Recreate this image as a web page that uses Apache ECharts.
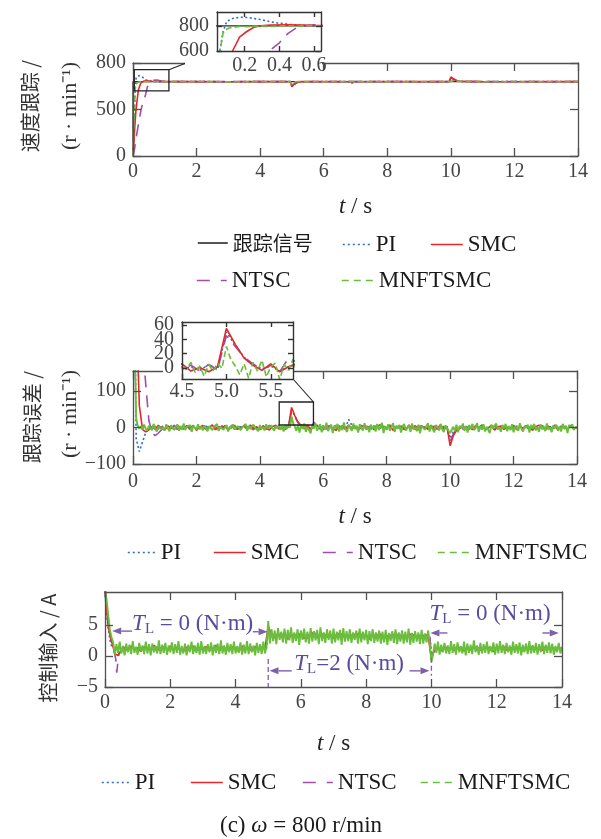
<!DOCTYPE html>
<html><head><meta charset="utf-8">
<script src="https://cdn.jsdelivr.net/npm/echarts@6/dist/echarts.min.js"></script>
<style>html,body{margin:0;padding:0;background:#fff}#c{width:601px;height:839px}</style>
</head><body><div id="c"></div>
<script>
// ---------------- tick labels ----------------
const spdTickVals = [0, 500, 1000];
const spdTickLabels = ['0', '500', '800'];
const errTickVals = [-100, 0, 100];
const ctrlTickVals = [-5, 0, 5];
const in1XTicks = [0.2, 0.4, 0.6];
const in1YTicks = [600, 800];
const in2XTicks = [4.5, 5.0, 5.5];
const in2YTicks = [0, 20, 40, 60];
const in2YLabelsA = [0, 40];
const in2YLabelsB = [20, 60];

// ---------------- (a) speed tracking, r/min ----------------
const spdRefT = [0, 0, 14];
const spdRefV = [0, 800, 800];
const spdPIT = [0,0.02,0.04,0.057,0.075,0.096,0.13,0.17,0.22,0.29,0.35,0.39,0.48,0.6,0.8,1,2,3,4,4.95,5.0,5.05,5.15,5.3,6,6.8,6.85,6.9,7,8,9,9.95,10.0,10.05,10.15,10.3,11,12,13,14];
const spdPIV = [0,150,420,600,753,836,858,868,866,850,832,822,808,801,799,800,802,798,801,800,752,770,788,798,801,800,778,799,800,802,798,800,832,818,806,801,799,801,800,800];
const spdSMCT = [0,0.03,0.06,0.09,0.13,0.17,0.21,0.25,0.29,0.35,0.45,0.6,0.8,1,2,3,4,4.95,5.0,5.05,5.1,5.2,5.3,6,7,8,9,9.95,10.0,10.05,10.1,10.2,10.3,11,12,13,14];
const spdSMCV = [0,150,330,480,600,710,753,787,800,806,808,804,801,800,801,799,800,800,745,767,786,796,800,801,799,800,801,800,850,835,822,808,802,800,799,801,800];
const spdNTSCT = [0,0.05,0.1,0.15,0.2,0.25,0.3,0.34,0.4,0.45,0.5,0.55,0.65,0.75,0.9,1.1,2,3,4,4.95,5.0,5.05,5.1,5.2,5.3,6,7,8,9,9.95,10.0,10.05,10.1,10.2,10.3,11,12,13,14];
const spdNTSCV = [0,80,200,300,400,490,560,600,665,740,785,800,814,818,806,801,799,801,800,800,755,770,785,794,800,799,801,800,799,800,838,852,830,808,801,800,801,799,800];
const spdMNT = [0,0.02,0.04,0.057,0.075,0.09,0.11,0.14,0.17,0.22,0.28,0.35,0.42,0.5,0.58,0.65,0.8,1,2,3,4,4.95,5.0,5.05,5.1,5.2,6,7,8,9,9.95,10.0,10.05,10.1,11,12,13,14];
const spdMNV = [0,250,480,600,743,770,783,788,796,793,799,795,801,797,802,798,801,799,802,797,801,800,772,788,797,801,798,803,797,801,800,815,806,801,799,802,798,800];

// ---------------- (b) tracking error, r/min ----------------
// sampled every 0.05 s from t = 0
const errMN = [800,250,25,5,-3,
 4,-6,8,-3,-9,5,2,-7,10,-4,
 -11,3,7,-5,1,-8,9,-2,-10,6,
 3,-6,-1,8,-9,4,-4,11,-7,2,
 -3,7,-12,5,0,-6,9,-5,3,-8,
 6,-2,-10,4,8,-7,1,-4,10,-9,
 2,5,-6,-1,7,-11,3,-3,9,-5,
 -8,4,6,-7,1,-2,10,-9,5,-4,
 -6,8,-1,3,-10,7,-5,2,-8,9,
 -3,-7,6,1,-9,4,-2,8,-6,3,
 -11,5,-4,7,0,
 30,12,3,-9,6,-14,8,-4,11,-12,
 2,7,-16,5,-3,12,-8,-1,9,-13,
 4,-6,13,-10,1,8,-15,6,-2,10,
 -11,3,-7,14,-5,-12,7,0,-9,11,
 -4,5,-14,9,-1,-8,12,-6,2,-13,
 8,-3,6,-11,10,-7,-2,13,-15,4,
 -5,9,-9,1,12,-12,5,-3,7,-14,
 3,10,-8,-1,6,-12,11,-5,2,-10,
 8,-16,4,9,-6,-2,12,-11,5,-4,
 -13,7,1,-8,10,-5,-12,6,3,-9,
 -15,-6,2,-10,8,-13,5,-2,11,-9,
 3,-14,7,-4,10,-7,-1,12,-12,4,
 -6,9,-11,2,6,-15,8,-3,-8,11,
 -5,1,-12,7,-2,10,-10,4,-7,9,
 -13,3,6,-9,12,-4,-11,5,-1,8,
 -14,7,-3,10,-8,2,-12,9,-5,4,
 -10,11,-6,1,-13,6,-2,8,-9,3,
 -11,10,-4,5,-15,7,-1,9,-7,2,
 -3];
// sampled every 0.1 s from t = 0
const errSMC = [800,330,60,-5,-12,-6,
 3,-5,6,-2,-7,4,1,-6,7,-3,
 -4,5,-1,6,-8,2,4,-5,0,7,
 -6,3,-2,5,-7,1,6,-4,-1,4,
 -5,7,-3,2,-6,5,-2,-7,3,6,
 -4,1,-5,2,
 55,33,14,4,-3,6,-5,2,7,-4,
 -6,3,5,-2,-8,4,1,-5,7,-3,
 2,-7,6,0,-4,5,-6,3,8,-5,
 -1,6,-8,2,4,-3,-6,7,-2,5,
 -7,3,1,-5,6,-4,-2,8,-6,3,
 -50,-22,-8,-3,4,-5,
 3,-6,5,-2,7,-4,-1,6,-7,2,
 4,-5,1,-3,6,-6,3,-2,5,-4,
 -7,2,6,-1,-5,4,-3,7,-6,1,
 3,-4,5,-2,0];
const errNTSC = [800,600,400,230,120,20,-15,-22,-15,-6,-1,
 4,-3,6,-5,1,-2,5,-6,3,0,
 -4,6,-1,-5,4,2,-6,5,-3,1,
 6,-4,-2,5,-5,3,0,-6,4,-1,
 2,-5,6,-3,-1,4,-4,5,-2,
 45,30,15,6,-2,4,-5,14,8,-3,
 5,-4,2,-6,6,-1,-3,7,-5,1,
 4,-2,-6,5,3,-4,0,6,-5,2,
 -3,7,-1,-6,4,1,-4,6,-2,-5,
 3,5,-6,2,-1,4,-5,7,-3,0,
 -38,-18,-6,2,-4,3,
 -5,4,1,-3,6,-6,2,-1,5,-4,
 3,-2,6,-5,0,4,-3,-6,5,1,
 -4,6,-2,3,-5,2,-1,5,-6,4,
 -3,1,6,-4,2];
const errPI = [800,-30,-66,-40,-14,-5,-1,
 3,-4,2,5,-3,-1,4,-5,1,3,
 -2,5,-4,0,2,-5,4,-1,-3,5,
 -2,1,4,-4,3,-1,-5,2,5,-3,
 0,4,-2,-4,3,1,-5,4,-1,2,
 -3,5,-2,
 50,32,15,5,-1,3,-4,2,5,-2,
 -3,4,1,-5,3,-2,5,-1,22,6,
 -4,2,-3,5,0,-5,3,1,-2,4,
 -5,2,4,-3,-1,5,-4,3,0,-2,
 4,-5,2,1,-3,5,-1,-4,3,2,
 -30,-12,-4,1,-3,2,
 -2,4,-3,1,5,-4,0,3,-5,2,
 -1,4,-3,5,-2,0,3,-4,1,-5,
 4,2,-3,5,-1,-2,4,-5,3,0,
 -3,2,5,-4,1];

// ---------------- (c) control input, A ----------------
// sampled every 0.05 s from t = 0
const ctrlMN = [11,9,6.5,4.2,3.0,
 2.2,0.2,1.9,0.5,2.3,0.4,1.6,0.1,2.0,0.6,
 1.8,0.3,2.4,0.5,1.5,0.2,2.1,0.7,1.7,0.3,
 2.3,0.4,1.9,0.1,2.0,0.6,1.6,0.4,2.5,0.3,
 1.8,0.5,2.1,0.2,1.7,0.6,2.2,0.3,1.9,0.5,
 2.4,0.2,1.6,0.4,2.0,0.1,1.8,0.6,2.3,0.3,
 1.7,0.5,2.1,0.2,2.4,0.4,1.6,0.3,1.9,0.6,
 2.2,0.1,1.8,0.5,2.0,0.3,2.5,0.4,1.7,0.2,
 2.1,0.6,1.9,0.3,2.3,0.4,1.6,0.5,2.2,0.2,
 1.8,0.4,2.4,0.3,2.0,0.6,1.7,0.1,2.1,0.5,
 1.9,0.3,2.3,0.4,1.6,
 5.6,2.0,4.3,2.4,4.1,1.9,4.5,2.6,3.9,2.2,
 4.4,2.0,4.2,2.5,4.6,2.1,3.8,2.4,4.3,1.8,
 4.1,2.6,4.4,2.2,3.9,2.0,4.5,2.3,4.0,2.5,
 4.2,1.9,4.6,2.4,3.8,2.1,4.3,2.6,4.1,2.0,
 4.4,2.2,3.9,2.5,4.2,1.8,4.5,2.3,4.0,2.4,
 4.3,2.1,3.8,2.6,4.1,2.0,4.4,2.2,3.9,2.5,
 4.2,1.9,4.0,2.4,4.3,2.1,3.8,2.3,4.1,2.0,
 3.9,2.2,4.2,1.8,3.7,2.4,4.0,2.1,4.3,1.9,
 3.8,2.3,4.1,2.0,3.9,2.2,4.4,1.8,3.7,2.1,
 4.0,2.3,3.8,1.9,4.2,2.0,3.6,2.2,4.1,1.9,
 -1.0,0.3,2.0,0.5,2.3,0.2,1.8,0.6,2.1,0.4,
 1.7,0.3,2.4,0.5,1.9,0.2,2.2,0.6,1.6,0.4,
 2.3,0.1,2.0,0.5,1.8,0.3,2.5,0.6,1.7,0.2,
 2.1,0.4,1.9,0.5,2.3,0.3,1.6,0.6,2.2,0.2,
 2.0,0.4,2.4,0.5,1.8,0.3,2.1,0.6,1.7,0.2,
 2.3,0.5,1.9,0.4,2.2,0.1,1.8,0.6,2.0,0.3,
 2.4,0.4,1.7,0.5,2.1,0.2,1.9,0.6,2.3,0.3,
 1.8,0.5,2.2,0.4,2.0,0.2,1.6,0.6,2.1,0.4,
 1.5];
// sampled every 0.1 s from t = 0
const ctrlSMC = [10.5,4.6,2.4,0.4,0.05,0.9,
 1.4,0.8,1.6,1.0,1.3,0.7,1.5,1.1,0.9,1.7,
 1.2,0.8,1.5,1.0,1.6,0.9,1.3,1.1,0.7,1.4,
 1.2,1.6,0.8,1.3,1.0,1.5,0.9,1.2,1.7,0.8,
 1.4,1.1,0.9,1.5,1.2,0.7,1.6,1.0,1.3,0.8,
 1.5,1.1,1.4,1.2,
 4.8,3.4,2.9,3.6,3.1,3.8,2.7,3.3,3.5,3.0,
 3.7,2.8,3.4,3.2,3.9,2.9,3.3,3.6,3.0,3.5,
 2.8,3.4,3.7,3.1,3.3,2.9,3.6,3.2,3.8,3.0,
 3.4,2.7,3.5,3.1,3.6,3.3,2.9,3.4,3.2,3.7,
 3.0,3.5,2.8,3.3,3.6,3.1,3.4,2.9,3.5,3.2,
 -0.5,1.0,1.4,0.8,1.6,1.1,1.3,0.9,1.5,1.2,
 0.8,1.4,1.0,1.6,1.2,0.9,1.3,1.5,1.1,0.7,
 1.4,1.2,1.6,0.9,1.3,1.0,1.5,1.2,0.8,1.4,
 1.1,1.6,1.0,1.3,0.9,1.5,1.2,1.4,1.0,1.3,
 1.2];
const ctrlPIT = [0,0.05,0.1,0.15,0.2,0.3,0.5,1,2,3,4,4.95,5.0,5.1,5.5,7,9,9.95,10.0,10.1,10.5,12,14];
const ctrlPIV = [10.5,6.5,4.6,2.6,1.6,1.1,1.2,1.3,1.1,1.2,1.3,1.2,4.5,3.4,3.2,3.3,3.1,3.2,0.2,1.0,1.2,1.3,1.2];
const ctrlNTSCT = [0,0.05,0.1,0.15,0.2,0.28,0.33,0.36,0.42,0.5,0.7,1,2,3,4,4.95,5.0,5.1,5.5,7,9,9.95,10.0,10.1,10.5,12,14];
const ctrlNTSCV = [10.5,10.5,6,3.5,2.0,0.8,-0.5,-2.7,0.3,1.0,1.3,1.2,1.1,1.3,1.2,1.2,4.6,3.5,3.2,3.3,3.1,3.2,0.0,1.0,1.2,1.3,1.2];

// zoom windows drawn in the main panels  [x0, y0, x1, y1]
const zoomBox1 = [0.04, 700, 1.13, 928];
const zoomBox2 = [4.61, 7, 5.69, 70];

// ---------------- helpers ----------------
const SERIF = '"Liberation Serif","Times New Roman","Noto Sans CJK SC",serif';
const CJK = '"Noto Sans CJK SC",sans-serif';
const AX = '#505050', LBL = '#444';
const ANN = '#7d5fae', ANNT = '#5a4b9e';
const ST = {
  '跟踪信号': {color: '#2b2b2b', type: 'solid', width: 1.3},
  'PI': {color: '#2d6cc0', type: [2, 2.5], width: 1.6},
  'SMC': {color: '#e8262a', type: 'solid', width: 1.6},
  'NTSC': {color: '#a24cb0', type: [12, 8], width: 1.6},
  'MNFTSMC': {color: '#69be3c', type: [6, 3], width: 1.6}
};
const zipT = (T, V) => T.map((t, i) => [t, V[i]]);
const uni = (V, step) => V.map((v, i) => [Math.round(i * step * 100) / 100, v]);
const minus = v => (v < 0 ? '\u2212' + Math.abs(v) : String(v));

const grids = [
  {left: 133, top: 63, width: 445, height: 93},
  {left: 217, top: 12, width: 104, height: 39},
  {left: 133, top: 371, width: 444, height: 93},
  {left: 182, top: 322, width: 111, height: 57},
  {left: 105, top: 592, width: 457, height: 95}
];
const axCfg = [
  {x: [0, 14], xi: 2, y: [0, 1000], yt: spdTickVals, yf: v => spdTickLabels[spdTickVals.indexOf(v)], tl: 8, xm: 6, ym: 7, gap: 39, z: 3, ac: AX, aw: 1.3, fs: 20},
  {x: [0.04, 0.64], xt: in1XTicks, xf: v => v.toFixed(1), y: [600, 910], yt: in1YTicks, tl: 5, xm: 5, ym: 8, z: 22, ac: '#333', aw: 1.4, fs: 20},
  {x: [0, 14], xi: 2, y: [-100, 155], yt: errTickVals, yf: minus, tl: 8, xm: 8, ym: 7, gap: 41, z: 3, ac: AX, aw: 1.3, fs: 20},
  {x: [4.5, 5.75], xt: in2XTicks, xf: v => v.toFixed(1), y: [-15, 64], yt: in2YTicks, yl: in2YLabelsA, tl: 5, xm: 3, ym: 8, z: 22, ac: '#333', aw: 1.4, fs: 20},
  {x: [0, 14], xi: 2, y: [-5, 10.3], yt: ctrlTickVals, yf: minus, tl: 8, xm: 6, ym: 7, gap: 45, z: 3, ac: AX, aw: 1.3, fs: 20}
];

function mkAxis(g, dim, side, labels) {
  const o = axCfg[g];
  const isX = dim === 'x';
  const rng = isX ? o.x : o.y;
  const a = {
    type: 'value', gridIndex: g, min: rng[0], max: rng[1], position: side, z: o.z,
    splitLine: {show: false},
    axisLine: {show: true, onZero: false, lineStyle: {color: o.ac, width: o.aw}},
    axisTick: {show: true, inside: true, length: o.tl, lineStyle: {color: o.ac, width: o.aw}},
    axisLabel: {show: labels, margin: isX ? o.xm : o.ym, fontSize: o.fs, fontFamily: SERIF, color: LBL,
      showMinLabel: true, showMaxLabel: true, hideOverlap: false}
  };
  if (isX && o.xi) {
    a.interval = o.xi;
  } else {
    const tv = isX ? o.xt : o.yt;
    a.axisTick.customValues = tv;
    a.axisLabel.customValues = (!isX && o.yl) ? o.yl : tv;
  }
  const f = isX ? o.xf : o.yf;
  if (f) a.axisLabel.formatter = f;
  if (isX && side === 'bottom' && o.gap) {
    a.name = '{i|t} / s';
    a.nameLocation = 'middle';
    a.nameGap = o.gap;
    a.nameTextStyle = {fontFamily: SERIF, fontSize: 23, color: '#222',
      rich: {i: {fontFamily: SERIF, fontSize: 23, fontStyle: 'italic', color: '#222'}}};
  }
  return a;
}
const xAxis = [], yAxis = [];
for (let g = 0; g < grids.length; g++) {
  xAxis.push(mkAxis(g, 'x', 'bottom', true), mkAxis(g, 'x', 'top', false));
  yAxis.push(mkAxis(g, 'y', 'left', true), mkAxis(g, 'y', 'right', false));
}
// second label-only axis for the error inset (interleaved labels 20, 60)
yAxis.push({type: 'value', gridIndex: 3, min: axCfg[3].y[0], max: axCfg[3].y[1], position: 'left', z: 22,
  splitLine: {show: false}, axisLine: {show: false, onZero: false}, axisTick: {show: false},
  axisLabel: {show: true, margin: 8, fontSize: 20, fontFamily: SERIF, color: LBL, customValues: in2YLabelsB, hideOverlap: false}});

function ser(name, data, g, z, solid) {
  const s = ST[name];
  return {type: 'line', name, data, xAxisIndex: 2 * g, yAxisIndex: 2 * g, symbol: 'none', showSymbol: false,
    silent: true, animation: false, clip: true, z, emphasis: {disabled: true},
    lineStyle: {color: s.color, width: solid ? 1.9 : s.width, type: solid ? 'solid' : s.type}, itemStyle: {color: s.color}};
}

const series = [];
[0, 1].forEach(g => {
  const z = g === 0 ? 2 : 20;
  series.push(ser('跟踪信号', zipT(spdRefT, spdRefV), g, z));
  series.push(ser('PI', zipT(spdPIT, spdPIV), g, z));
  series.push(ser('NTSC', zipT(spdNTSCT, spdNTSCV), g, z));
  series.push(ser('SMC', zipT(spdSMCT, spdSMCV), g, z));
  series.push(ser('MNFTSMC', zipT(spdMNT, spdMNV), g, z));
});
[2, 3].forEach(g => {
  const z = g === 2 ? 2 : 20;
  series.push(ser('PI', uni(errPI, 0.1), g, z));
  series.push(ser('NTSC', uni(errNTSC, 0.1), g, z));
  series.push(ser('SMC', uni(errSMC, 0.1), g, z));
  series.push(ser('MNFTSMC', uni(errMN, 0.05), g, z, g === 2));
});
series.push(ser('PI', zipT(ctrlPIT, ctrlPIV), 4, 2));
series.push(ser('NTSC', zipT(ctrlNTSCT, ctrlNTSCV), 4, 2));
series.push(ser('SMC', uni(ctrlSMC, 0.1), 4, 2));
series.push(ser('MNFTSMC', uni(ctrlMN, 0.05), 4, 2, true));

function lg(name, left, cy, w, dash) {
  const l = {show: true, data: [name], left, top: cy - 12, orient: 'horizontal', padding: 0,
    itemWidth: w, itemHeight: 24, itemGap: 0, selectedMode: false,
    itemStyle: {opacity: 0},
    textStyle: {fontFamily: SERIF, fontSize: 23, color: '#1a1a1a',
      rich: {c: {fontFamily: CJK, fontSize: 20, color: '#1a1a1a'}}},
    formatter: n => (n === '跟踪信号' ? '{c|跟踪信号}' : n)};
  l.lineStyle = {width: 1.6, type: dash || 'solid'};
  return l;
}
const legend = [
  lg('跟踪信号', 197, 245, 30), lg('PI', 342, 245, 28, [2, 3]), lg('SMC', 430, 245, 32),
  lg('NTSC', 196, 281, 30, [13, 11]), lg('MNFTSMC', 341, 281, 32, [7, 5]),
  lg('PI', 127, 553, 28, [2, 3]), lg('SMC', 213, 553, 32), lg('NTSC', 322, 553, 30, [13, 11]), lg('MNFTSMC', 437, 553, 32, [7, 5]),
  lg('PI', 101, 783, 28, [2, 3]), lg('SMC', 190, 783, 32), lg('NTSC', 302, 783, 30, [13, 11]), lg('MNFTSMC', 420, 783, 32, [7, 5])
];

const option = {
  animation: false,
  backgroundColor: '#fff',
  grid: grids,
  xAxis, yAxis, series, legend
};

const chart = echarts.init(document.getElementById('c'), null, {renderer: 'canvas'});
chart.setOption(option);

// ---------------- annotations ----------------
const P = (g, x, y) => chart.convertToPixel({xAxisIndex: 2 * g, yAxisIndex: 2 * g}, [x, y]);
const G = [];
// white covers behind insets
G.push({type: 'rect', shape: {x: 185, y: 9, width: 137, height: 64}, style: {fill: '#fff'}, z: 10, silent: true});
G.push({type: 'rect', shape: {x: 163, y: 318, width: 130, height: 82}, style: {fill: '#fff'}, z: 10, silent: true});
// zoom frames + connectors
function frame(g, b) {
  const a = P(g, b[0], b[3]), c = P(g, b[2], b[1]);
  G.push({type: 'rect', shape: {x: a[0], y: a[1], width: c[0] - a[0], height: c[1] - a[1]},
    style: {fill: 'none', stroke: '#222', lineWidth: 1.3}, z: 9, silent: true});
  return {tl: a, br: c, tr: [c[0], a[1]]};
}
const f1 = frame(0, zoomBox1);
const in1 = P(1, axCfg[1].x[0], axCfg[1].y[0]);
G.push({type: 'line', shape: {x1: f1.tr[0], y1: f1.tr[1], x2: in1[0], y2: in1[1]}, style: {stroke: '#222', lineWidth: 1.1}, z: 9, silent: true});
const f2 = frame(2, zoomBox2);
const in2 = P(3, axCfg[3].x[1], axCfg[3].y[0]);
G.push({type: 'line', shape: {x1: f2.tr[0], y1: f2.tr[1], x2: in2[0], y2: in2[1]}, style: {stroke: '#222', lineWidth: 1.1}, z: 9, silent: true});

function arrow(g, x0, y0, x1, y1) {
  const a = P(g, x0, y0), b = P(g, x1, y1);
  const dx = b[0] - a[0], dy = b[1] - a[1], L = Math.hypot(dx, dy), ux = dx / L, uy = dy / L;
  const hl = 9, hw = 3.5;
  const bs = [b[0] - ux * hl, b[1] - uy * hl];
  G.push({type: 'line', shape: {x1: a[0], y1: a[1], x2: bs[0], y2: bs[1]}, style: {stroke: ANN, lineWidth: 1.4}, z: 15, silent: true});
  G.push({type: 'polygon', shape: {points: [b, [bs[0] - uy * hw, bs[1] + ux * hw], [bs[0] + uy * hw, bs[1] - ux * hw]]}, style: {fill: ANN}, z: 15, silent: true});
}
function vguide(g, x, y0, y1) {
  const a = P(g, x, y0), b = P(g, x, y1);
  G.push({type: 'line', shape: {x1: a[0], y1: a[1], x2: b[0], y2: b[1]}, style: {stroke: ANN, lineWidth: 1.3, lineDash: [5, 3]}, z: 15, silent: true});
}
const RICH = {
  t: {fontFamily: SERIF, fontSize: 23, fontStyle: 'italic', lineHeight: 26, fill: ANNT, color: ANNT},
  l: {fontFamily: SERIF, fontSize: 15, verticalAlign: 'bottom', fill: ANNT, color: ANNT},
  n: {fontFamily: SERIF, fontSize: 23, lineHeight: 26, fill: ANNT, color: ANNT}
};
function annText(g, x, y, str) {
  const p = P(g, x, y);
  G.push({type: 'text', x: p[0], y: p[1], z: 15, silent: true,
    style: {text: str, rich: RICH, fill: ANNT, font: '23px ' + SERIF, align: 'left', verticalAlign: 'middle', textAlign: 'left', textVerticalAlign: 'middle'}});
}
// T_L = 0 (0–5 s)
arrow(4, 0.83, 4.0, 0.22, 4.0);
annText(4, 0.83, 5.2, '{t|T}{l|L}{n| = 0 (N·m)}');
arrow(4, 4.53, 3.9, 4.98, 3.9);
// T_L = 2 (5–10 s)
vguide(4, 5, -0.5, -5);
vguide(4, 10, -0.3, -3.2);
arrow(4, 5.72, -2.4, 5.04, -2.4);
annText(4, 5.8, -1.3, '{t|T}{l|L}{n|=2 (N·m)}');
arrow(4, 9.33, -2.4, 9.94, -2.4);
// T_L = 0 (10–14 s)
arrow(4, 10.49, 3.7, 9.97, 3.7);
annText(4, 9.94, 6.8, '{t|T}{l|L}{n| = 0 (N·m)}');
arrow(4, 13.4, 3.7, 13.9, 3.7);

// y-axis titles
function vtext(x, y, str, font) {
  G.push({type: 'text', x, y, rotation: Math.PI / 2, z: 15, silent: true,
    style: {text: str, font, fill: '#333', align: 'center', verticalAlign: 'middle', textAlign: 'center', textVerticalAlign: 'middle'}});
}
vtext(30, 106, '速度跟踪 /', '20px ' + CJK);
vtext(70, 106, '(r · min\u207B\u00B9)', '22px ' + SERIF);
vtext(32, 417, '跟踪误差 /', '20px ' + CJK);
vtext(70, 414, '(r · min\u207B\u00B9)', '22px ' + SERIF);
vtext(48, 648, '控制输入 / A', '20px ' + CJK);

// caption
G.push({type: 'text', x: 301, y: 826, z: 15, silent: true,
  style: {text: '{n|(c) }{i|ω}{n| = 800 r/min}', font: '23px ' + SERIF, fill: '#1a1a1a', align: 'center', verticalAlign: 'middle', textAlign: 'center', textVerticalAlign: 'middle',
    rich: {n: {fontFamily: SERIF, fontSize: 23, fill: '#1a1a1a', color: '#1a1a1a'}, i: {fontFamily: SERIF, fontSize: 23, fontStyle: 'italic', fill: '#1a1a1a', color: '#1a1a1a'}}}});

chart.setOption({graphic: {elements: G}});
</script></body></html>
